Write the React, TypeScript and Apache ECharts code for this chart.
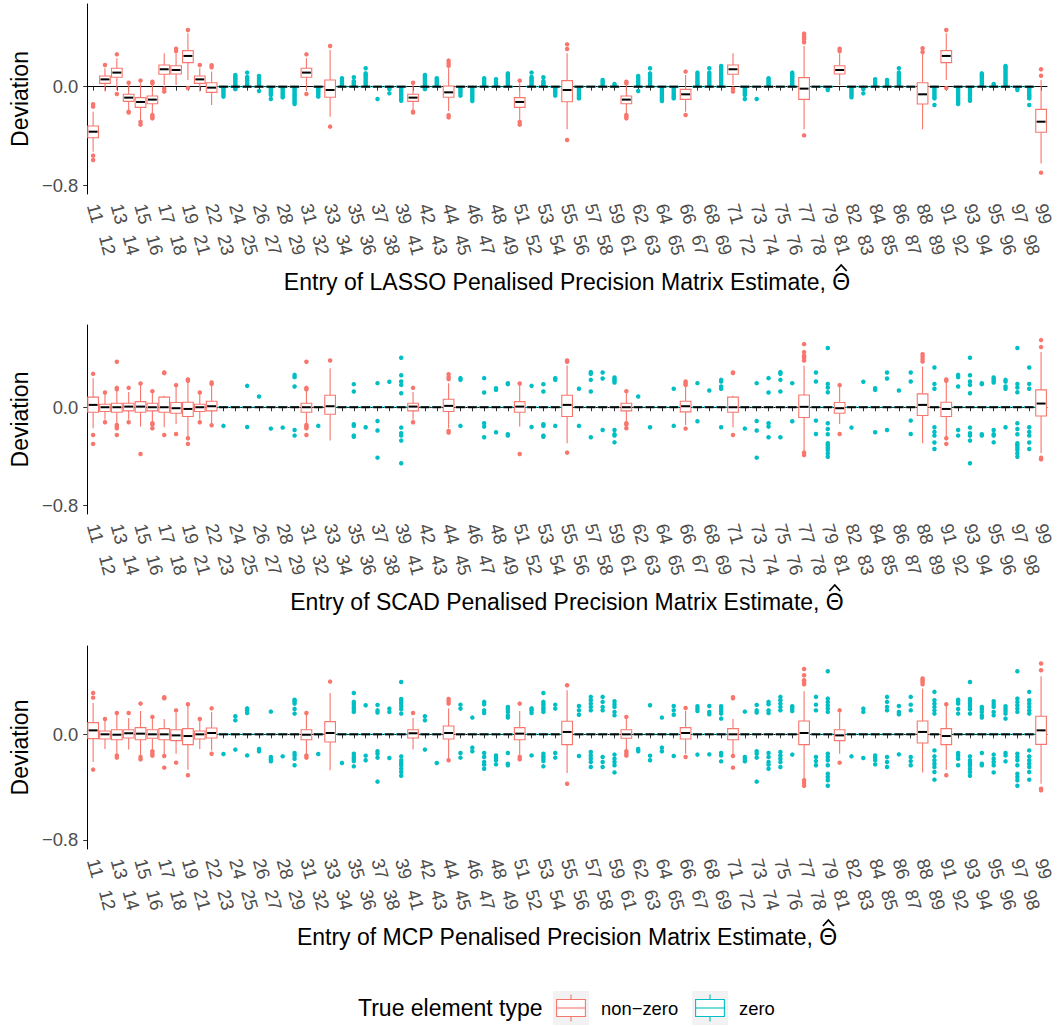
import React, { useEffect, useRef } from 'react';
import * as echarts from 'echarts';

// ---------- categories: entries (i, j) of the 9x9 precision matrix ----------
const CATEGORIES: string[] = [
  '11', '12', '13', '14', '15', '16', '17', '18', '19',
  '21', '22', '23', '24', '25', '26', '27', '28', '29',
  '31', '32', '33', '34', '35', '36', '37', '38', '39',
  '41', '42', '43', '44', '45', '46', '47', '48', '49',
  '51', '52', '53', '54', '55', '56', '57', '58', '59',
  '61', '62', '63', '64', '65', '66', '67', '68', '69',
  '71', '72', '73', '74', '75', '76', '77', '78', '79',
  '81', '82', '83', '84', '85', '86', '87', '88', '89',
  '91', '92', '93', '94', '95', '96', '97', '98', '99',
];

// The matrix is symmetric: entry "ji" shows exactly the same box as "ij",
// so values are listed for the upper triangle (i <= j) only.
// Box stats: [lower whisker, Q1, median, Q3, upper whisker] (non-zero entries).
// Zero entries collapse to a box at 0 with only outliers.
const ZERO_BOX = [0, 0, 0, 0, 0];

const LASSO_BOXES: [string, number[]][] = [
  ['11', [-0.527, -0.414, -0.365, -0.319, -0.203]],
  ['12', [-0.04, 0.027, 0.059, 0.086, 0.149]],
  ['13', [-0.027, 0.076, 0.114, 0.149, 0.23]],
  ['14', [-0.189, -0.119, -0.089, -0.062, 0.014]],
  ['15', [-0.27, -0.168, -0.124, -0.089, 0.027]],
  ['16', [-0.216, -0.138, -0.105, -0.076, 0.014]],
  ['17', [0.014, 0.1, 0.141, 0.176, 0.27]],
  ['18', [0.014, 0.103, 0.135, 0.17, 0.27]],
  ['19', [0.054, 0.195, 0.249, 0.292, 0.432]],
  ['22', [-0.149, -0.046, -0.008, 0.032, 0.122]],
  ['33', [-0.243, -0.086, -0.027, 0.054, 0.297]],
  ['44', [-0.197, -0.086, -0.046, 0.005, 0.149]],
  ['55', [-0.346, -0.122, -0.027, 0.049, 0.27]],
  ['66', [-0.203, -0.103, -0.062, -0.022, 0.095]],
  ['77', [-0.346, -0.103, -0.016, 0.073, 0.33]],
  ['88', [-0.346, -0.141, -0.062, 0.032, 0.27]],
  ['99', [-0.622, -0.37, -0.284, -0.184, 0.054]],
];

const LASSO_OUTLIERS: [string, number[]][] = [
  ['11', [-0.143, -0.162, -0.559, -0.595]],
  ['12', [0.176]],
  ['13', [0.262, -0.059]],
  ['14', [0.032, -0.203, -0.21]],
  ['15', [0.049, -0.286, -0.308]],
  ['16', [0.04, 0.027, -0.23, -0.243, -0.257]],
  ['17', [-0.016, -0.04]],
  ['18', [0.308, 0.289]],
  ['19', [0.459, -0.011]],
  ['22', [0.173, 0.157]],
  ['23', [-0.012, -0.025, -0.038, -0.052, -0.066, -0.081]],
  ['24', [0.012, 0.025, 0.04, 0.054, 0.068, 0.082, 0.095, -0.01, -0.02]],
  ['25', [0.011, 0.024, 0.038, 0.052, 0.066, 0.078, 0.114]],
  ['26', [0.012, 0.026, 0.04, 0.055, 0.07, 0.086, -0.035]],
  ['27', [-0.012, -0.026, -0.04, -0.055, -0.068, -0.1]],
  ['28', [-0.012, -0.026, -0.041, -0.056, -0.071, -0.086]],
  ['29', [-0.012, -0.026, -0.04, -0.055, -0.07, -0.085, -0.1, -0.113, -0.127, -0.14]],
  ['33', [0.33, -0.324]],
  ['34', [0.012, 0.026, 0.04, 0.054, 0.068]],
  ['35', [0.01, 0.022, 0.034, 0.045, 0.076]],
  ['36', [0.012, 0.026, 0.04, 0.055, 0.07, 0.085, 0.097, 0.108, 0.149]],
  ['37', [-0.1]],
  ['38', [-0.01, -0.02, -0.054]],
  ['39', [-0.012, -0.026, -0.04, -0.055, -0.07, -0.085, -0.1, -0.114]],
  ['44', [0.211, 0.189, 0.17, -0.232, -0.249]],
  ['45', [-0.012, -0.026, -0.04, -0.054, -0.073]],
  ['46', [-0.012, -0.026, -0.04, -0.055, -0.07, -0.085, -0.1, -0.116]],
  ['47', [0.012, 0.026, 0.04, 0.054, 0.068]],
  ['48', [0.012, 0.026, 0.04, 0.06]],
  ['49', [0.012, 0.026, 0.04, 0.055, 0.07, 0.085, 0.097, 0.108]],
  ['55', [0.343, 0.305, -0.432]],
  ['56', [-0.012, -0.026, -0.04, -0.055, -0.07, -0.083, -0.095]],
  ['58', [0.012, 0.026, 0.04, 0.054]],
  ['59', [0.01, 0.022]],
  ['66', [0.122, -0.23]],
  ['67', [0.012, 0.026, 0.04, 0.055, 0.07, 0.085, 0.1, 0.114]],
  ['68', [0.012, 0.026, 0.04, 0.055, 0.07, 0.085, 0.1, 0.114, 0.149]],
  ['69', [0.012, 0.026, 0.04, 0.055, 0.07, 0.085, 0.1, 0.115, 0.13, 0.145, 0.158, 0.168]],
  ['77', [0.43, 0.415, 0.4, 0.385, 0.36, -0.395]],
  ['79', [-0.012, -0.027]],
  ['88', [0.311, 0.281]],
  ['89', [-0.012, -0.026, -0.04, -0.055, -0.07, -0.083, -0.095, -0.149]],
  ['99', [0.141, 0.089, -0.697]],
];

const SCAD_BOXES: [string, number[]][] = [
  ['11', [-0.171, -0.041, 0.019, 0.082, 0.237]],
  ['12', [-0.103, -0.035, 0, 0.024, 0.109]],
  ['13', [-0.131, -0.041, 0, 0.033, 0.141]],
  ['14', [-0.103, -0.03, 0.005, 0.033, 0.125]],
  ['15', [-0.158, -0.041, 0.005, 0.046, 0.182]],
  ['16', [-0.117, -0.03, 0, 0.033, 0.12]],
  ['17', [-0.163, -0.041, 0, 0.082, 0.093]],
  ['18', [-0.136, -0.049, -0.008, 0.038, 0.169]],
  ['19', [-0.245, -0.076, -0.014, 0.041, 0.21]],
  ['22', [-0.131, -0.03, 0.008, 0.049, 0.182]],
  ['33', [-0.272, -0.057, 0.008, 0.098, 0.318]],
  ['44', [-0.171, -0.035, 0.011, 0.065, 0.196]],
  ['55', [-0.294, -0.076, 0.019, 0.098, 0.34]],
  ['66', [-0.144, -0.038, 0.008, 0.049, 0.177]],
  ['77', [-0.362, -0.084, 0.003, 0.1, 0.337]],
  ['88', [-0.294, -0.068, 0.019, 0.109, 0.332]],
  ['99', [-0.376, -0.071, 0.03, 0.141, 0.449]],
];

const SCAD_OUTLIERS: [string, number[]][] = [
  ['11', [0.272, -0.226, -0.299]],
  ['12', [0.12, -0.122]],
  ['13', [0.37, 0.158, 0.147, -0.144, -0.158, -0.171, -0.226]],
  ['14', [0.158, -0.122]],
  ['15', [0.193, -0.381]],
  ['16', [0.131, -0.131, -0.141, -0.171]],
  ['17', [0.283, 0.278, -0.226]],
  ['18', [0.18, -0.218]],
  ['19', [0.226, 0.215, -0.253, -0.299]],
  ['22', [0.201, 0.19, -0.147]],
  ['23', [-0.152]],
  ['25', [0.174, -0.161]],
  ['26', [0.087]],
  ['27', [-0.174]],
  ['28', [-0.166]],
  ['29', [0.264, 0.245, 0.169, -0.185, -0.231]],
  ['33', [0.381]],
  ['35', [0.188, 0.128, -0.139, -0.152, -0.231, -0.24]],
  ['36', [-0.163]],
  ['37', [0.196, -0.112, -0.19, -0.411]],
  ['38', [0.207]],
  ['39', [0.403, 0.261, 0.21, 0.182, 0.114, -0.166, -0.212, -0.231, -0.272, -0.457]],
  ['44', [0.269, 0.245, 0.229, -0.193, -0.207]],
  ['45', [0.237, 0.223, -0.152]],
  ['47', [0.237, 0.12, -0.131, -0.158, -0.245]],
  ['48', [0.155, 0.141, -0.204]],
  ['49', [0.196, 0.188, -0.22, -0.231]],
  ['55', [0.381, 0.37, -0.37]],
  ['56', [0.15, -0.152]],
  ['57', [0.286, 0.272, 0.223, 0.128, -0.245]],
  ['58', [0.283, 0.234, -0.185]],
  ['59', [0.242, 0.229, 0.215, 0.201, -0.185, -0.22, -0.231, -0.286]],
  ['66', [0.21, 0.196, 0.182, -0.174]],
  ['67', [0.196, -0.114]],
  ['68', [0.136]],
  ['69', [0.223, 0.21, 0.169, 0.15, -0.163]],
  ['77', [0.514, 0.449, 0.419, 0.405, 0.381, -0.37, -0.389]],
  ['78', [0.283, 0.21, -0.109, -0.218]],
  ['79', [0.482, 0.19, 0.161, 0.122, -0.131, -0.177, -0.22, -0.294, -0.31, -0.33, -0.348, -0.376, -0.403]],
  ['88', [0.433, 0.414, 0.392, 0.373]],
  ['89', [0.324, 0.19, 0.15, -0.163, -0.201, -0.231, -0.288, -0.34]],
  ['99', [0.547, 0.49, -0.411, -0.424]],
];

const MCP_BOXES: [string, number[]][] = [
  ['11', [-0.21, -0.033, 0.03, 0.089, 0.238]],
  ['12', [-0.111, -0.035, 0, 0.025, 0.106]],
  ['13', [-0.147, -0.041, -0.003, 0.035, 0.152]],
  ['14', [-0.116, -0.028, 0.008, 0.035, 0.124]],
  ['15', [-0.167, -0.041, 0.005, 0.051, 0.177]],
  ['16', [-0.122, -0.03, 0, 0.035, 0.127]],
  ['17', [-0.16, -0.041, 0, 0.043, 0.116]],
  ['18', [-0.147, -0.048, -0.008, 0.035, 0.165]],
  ['19', [-0.268, -0.078, -0.013, 0.043, 0.22]],
  ['22', [-0.122, -0.028, 0.01, 0.048, 0.17]],
  ['33', [-0.273, -0.058, 0.01, 0.096, 0.314]],
  ['44', [-0.192, -0.035, 0.01, 0.063, 0.195]],
  ['55', [-0.294, -0.078, 0.018, 0.099, 0.334]],
  ['66', [-0.147, -0.035, 0.01, 0.051, 0.177]],
  ['77', [-0.337, -0.078, 0.01, 0.101, 0.327]],
  ['88', [-0.289, -0.066, 0.018, 0.101, 0.347]],
  ['99', [-0.375, -0.076, 0.03, 0.137, 0.441]],
];

const MCP_OUTLIERS: [string, number[]][] = [
  ['11', [0.314, 0.278, -0.268]],
  ['12', [0.116]],
  ['13', [0.162, -0.16, -0.177]],
  ['14', [0.162]],
  ['15', [0.233, -0.172, -0.19]],
  ['16', [0.132, -0.129, -0.147, -0.162]],
  ['17', [0.281, 0.273, -0.165, -0.253]],
  ['18', [0.182, -0.215]],
  ['19', [0.228, -0.311]],
  ['22', [0.197, -0.147]],
  ['23', [-0.149]],
  ['24', [0.137, 0.106, -0.116]],
  ['25', [0.197, 0.182, 0.162, -0.16]],
  ['26', [-0.111, -0.129]],
  ['27', [0.172, -0.172, -0.19, -0.205]],
  ['28', [-0.167]],
  ['29', [0.263, 0.251, 0.233, 0.192, 0.157, -0.142, -0.16, -0.185, -0.235]],
  ['33', [0.4]],
  ['34', [-0.218]],
  ['35', [0.314, 0.246, 0.228, 0.208, 0.19, 0.17, -0.147, -0.167, -0.185, -0.203, -0.243]],
  ['36', [0.22, -0.162, -0.197]],
  ['37', [0.223, 0.182, 0.165, -0.129, -0.147, -0.177, -0.359]],
  ['38', [0.195, 0.17, -0.18]],
  ['39', [0.397, 0.268, 0.251, 0.233, 0.213, 0.19, 0.157, -0.167, -0.197, -0.218, -0.235, -0.261, -0.286, -0.314]],
  ['44', [0.268, 0.251, 0.233, -0.197]],
  ['45', [0.225, 0.195, -0.142, -0.177]],
  ['46', [0.127, -0.101, -0.129]],
  ['47', [0.246, 0.228, 0.182, 0.162, -0.142, -0.172, -0.21, -0.23, -0.261]],
  ['48', [-0.16, -0.177, -0.197, -0.228]],
  ['49', [0.208, 0.19, 0.17, 0.144, 0.127, -0.142, -0.223, -0.235]],
  ['55', [0.372, -0.375]],
  ['56', [0.215, 0.182, 0.149, -0.165]],
  ['57', [0.284, 0.258, 0.233, 0.208, 0.182, -0.134, -0.16, -0.185, -0.21, -0.248]],
  ['58', [0.284, 0.246, 0.208, 0.182, -0.172, -0.21, -0.248]],
  ['59', [0.251, 0.228, 0.208, 0.17, 0.144, -0.154, -0.185, -0.21, -0.235, -0.289]],
  ['66', [0.2, -0.172]],
  ['67', [0.213, 0.195, 0.177, -0.154]],
  ['68', [0.215, 0.17, 0.152, -0.152]],
  ['69', [0.213, 0.195, 0.177, 0.157, 0.119, -0.142, -0.16, -0.205]],
  ['77', [0.496, 0.448, 0.41, 0.397, 0.38, -0.349, -0.37, -0.39]],
  ['78', [0.284, 0.225, 0.182, -0.172, -0.203, -0.235]],
  ['79', [0.478, 0.271, 0.246, 0.22, 0.195, 0.17, -0.147, -0.172, -0.197, -0.235, -0.299, -0.324, -0.349, -0.39]],
  ['88', [0.423, 0.41, 0.397, 0.38]],
  ['89', [0.322, 0.258, 0.233, 0.208, 0.182, 0.157, -0.122, -0.167, -0.197, -0.223, -0.248, -0.286, -0.344]],
  ['99', [0.537, 0.486, -0.413, -0.425]],
];

const Y_TICKS = [-0.8, 0];
const Y_MIN = -0.87;
const Y_MAX = 0.67;
const PANEL_METHODS = ['LASSO', 'SCAD', 'MCP'];
const LEGEND_TITLE = 'True element type';
const LEGEND_LABELS = ['non\u2212zero', 'zero'];

// ---------- styling ----------
const RED = '#F8766D';
const CYAN = '#00BFC4';
const FONT = "'Liberation Sans', Arial, Helvetica, sans-serif";
const W = 1057;
const H = 1027;
const GRID_LEFT = 87;
const GRID_WIDTH = 960;
const PANEL_LAYOUT = [
  { top: 4, height: 190 },
  { top: 325, height: 189 },
  { top: 646, height: 203 },
];
const TITLE_GAP = 88;
const X_LABEL_SIZE = 18.4;
const ROW2_OFFSET = 31;

function buildPanel(boxes: [string, number[]][], outliers: [string, number[]][]) {
  const boxMap = new Map(boxes);
  const outMap = new Map(outliers);
  const boxData: number[][] = [];
  const redPts: number[][] = [];
  const cyanPts: number[][] = [];
  CATEGORIES.forEach((c, i) => {
    const key = c[0] <= c[1] ? c : c[1] + c[0];
    const stats = boxMap.get(key);
    const nz = stats ? 1 : 0;
    const s = stats || ZERO_BOX;
    boxData.push([i, s[0], s[1], s[2], s[3], s[4], nz]);
    (outMap.get(key) || []).forEach((v) => (nz ? redPts : cyanPts).push([i, v]));
  });
  return { boxData, redPts, cyanPts };
}

const PANEL_DATA = [
  buildPanel(LASSO_BOXES, LASSO_OUTLIERS),
  buildPanel(SCAD_BOXES, SCAD_OUTLIERS),
  buildPanel(MCP_BOXES, MCP_OUTLIERS),
];

function renderBox(params: any, api: any) {
  const x = api.value(0);
  const lo = api.coord([x, api.value(1)]);
  const q1 = api.coord([x, api.value(2)]);
  const med = api.coord([x, api.value(3)]);
  const q3 = api.coord([x, api.value(4)]);
  const hi = api.coord([x, api.value(5)]);
  const color = api.value(6) ? RED : CYAN;
  const band = api.size([1, 0])[0];
  const half = (band * 0.9) / 2;
  const mhalf = (band * 0.75) / 2;
  const cx = med[0];
  const children: any[] = [];
  if (lo[1] !== q1[1]) children.push({ type: 'line', shape: { x1: cx, y1: lo[1], x2: cx, y2: q1[1] }, style: { stroke: color, lineWidth: 1.1 } });
  if (hi[1] !== q3[1]) children.push({ type: 'line', shape: { x1: cx, y1: q3[1], x2: cx, y2: hi[1] }, style: { stroke: color, lineWidth: 1.1 } });
  if (q1[1] - q3[1] > 0.5) {
    children.push({
      type: 'rect',
      shape: { x: cx - half, y: q3[1], width: half * 2, height: q1[1] - q3[1] },
      style: { fill: '#ffffff', stroke: color, lineWidth: 1.1 },
    });
  } else {
    children.push({ type: 'line', shape: { x1: cx - half, y1: q3[1], x2: cx + half, y2: q3[1] }, style: { stroke: color, lineWidth: 1.6 } });
  }
  children.push({ type: 'line', shape: { x1: cx - mhalf, y1: med[1], x2: cx + mhalf, y2: med[1] }, style: { stroke: '#000000', lineWidth: 2 } });
  return { type: 'group', children };
}

function measure(text: string, font: string) {
  const ctx = document.createElement('canvas').getContext('2d');
  if (!ctx) return text.length * 11;
  ctx.font = font;
  return ctx.measureText(text).width;
}

function buildOption() {
  const grid: any[] = [];
  const xAxis: any[] = [];
  const yAxis: any[] = [];
  const series: any[] = [];
  const graphic: any[] = [];
  const titleFont = `23px ${FONT}`;

  PANEL_LAYOUT.forEach((p, g) => {
    grid.push({ left: GRID_LEFT, top: p.top, width: GRID_WIDTH, height: p.height, containLabel: false });
    const labelBase = {
      rotate: -75,
      fontSize: X_LABEL_SIZE,
      color: '#4D4D4D',
      fontFamily: FONT,
      hideOverlap: false,
      margin: 10,
    };
    xAxis.push({
      type: 'category',
      gridIndex: g,
      data: CATEGORIES,
      position: 'bottom',
      offset: 0,
      boundaryGap: true,
      axisLine: { show: true, lineStyle: { color: '#000', width: 1 } },
      axisTick: { show: true, alignWithLabel: true, interval: 0, length: 4, lineStyle: { color: '#333', width: 1 } },
      axisLabel: { ...labelBase, interval: (i: number) => i % 2 === 0 },
      splitLine: { show: false },
    });
    xAxis.push({
      type: 'category',
      gridIndex: g,
      data: CATEGORIES,
      position: 'bottom',
      offset: ROW2_OFFSET,
      boundaryGap: true,
      axisLine: { show: false },
      axisTick: { show: false },
      axisLabel: { ...labelBase, interval: (i: number) => i % 2 === 1 },
      splitLine: { show: false },
    });
    yAxis.push({
      type: 'value',
      gridIndex: g,
      min: Y_MIN,
      max: Y_MAX,
      axisLine: { show: true, lineStyle: { color: '#000', width: 1 } },
      axisTick: { show: true, length: 4, customValues: Y_TICKS, lineStyle: { color: '#333', width: 1 } },
      axisLabel: {
        customValues: Y_TICKS,
        margin: 9,
        fontSize: 18.4,
        color: '#4D4D4D',
        fontFamily: FONT,
        formatter: (v: number) => (v < 0 ? '\u2212' : '') + Math.abs(v).toFixed(1),
      },
      splitLine: { show: false },
      name: 'Deviation',
      nameLocation: 'middle',
      nameRotate: 90,
      nameGap: 56,
      nameTextStyle: { fontSize: 23, color: '#000', fontFamily: FONT },
    });
    const d = PANEL_DATA[g];
    series.push({
      type: 'scatter',
      xAxisIndex: 2 * g,
      yAxisIndex: g,
      data: d.redPts,
      symbol: 'circle',
      symbolSize: 4.5,
      itemStyle: { color: RED, opacity: 1 },
      silent: true,
      z: 2,
    });
    series.push({
      type: 'scatter',
      xAxisIndex: 2 * g,
      yAxisIndex: g,
      data: d.cyanPts,
      symbol: 'circle',
      symbolSize: 4.5,
      itemStyle: { color: CYAN, opacity: 1 },
      silent: true,
      z: 2,
    });
    series.push({
      type: 'custom',
      xAxisIndex: 2 * g,
      yAxisIndex: g,
      data: d.boxData,
      encode: { x: 0, y: [1, 2, 3, 4, 5] },
      renderItem: renderBox,
      silent: true,
      z: 3,
    });

    // axis title with a hat over Theta
    const title = `Entry of ${PANEL_METHODS[g]} Penalised Precision Matrix Estimate, \u0398`;
    const cx = GRID_LEFT + GRID_WIDTH / 2;
    const ty = p.top + p.height + TITLE_GAP;
    const tw = measure(title, titleFont);
    const thetaW = measure('\u0398', titleFont);
    const hx = cx + tw / 2 - thetaW / 2;
    graphic.push({
      type: 'text',
      x: cx,
      y: ty,
      style: {
        text: title,
        font: titleFont,
        fill: '#000',
        textAlign: 'center',
        align: 'center',
        textVerticalAlign: 'middle',
        verticalAlign: 'middle',
      },
    });
    graphic.push({
      type: 'polyline',
      shape: { points: [[hx - 5.5, ty - 11], [hx, ty - 17], [hx + 5.5, ty - 11]] },
      style: { stroke: '#000', lineWidth: 1.8, fill: 'none' },
    });
  });

  // legend
  const legY = 1008;
  const legFont = `18.4px ${FONT}`;
  graphic.push({
    type: 'text',
    x: 358,
    y: legY,
    style: { text: LEGEND_TITLE, font: titleFont, fill: '#000', textAlign: 'left', align: 'left', textVerticalAlign: 'middle', verticalAlign: 'middle' },
  });
  const keys = [
    { x: 553, color: RED, label: LEGEND_LABELS[0], tx: 601 },
    { x: 692, color: CYAN, label: LEGEND_LABELS[1], tx: 739 },
  ];
  keys.forEach((k) => {
    const top = legY - 17;
    const kw = 36;
    const kh = 34;
    const mid = k.x + kw / 2;
    graphic.push({ type: 'rect', shape: { x: k.x, y: top, width: kw, height: kh }, style: { fill: '#F2F2F2' } });
    graphic.push({ type: 'line', shape: { x1: mid, y1: top + 3.5, x2: mid, y2: top + 8.5 }, style: { stroke: k.color, lineWidth: 1.1 } });
    graphic.push({ type: 'line', shape: { x1: mid, y1: top + 25.5, x2: mid, y2: top + 30.5 }, style: { stroke: k.color, lineWidth: 1.1 } });
    graphic.push({ type: 'rect', shape: { x: k.x + 3.6, y: top + 8.5, width: kw - 7.2, height: 17 }, style: { fill: '#fff', stroke: k.color, lineWidth: 1.1 } });
    graphic.push({ type: 'line', shape: { x1: k.x + 3.6, y1: top + 17, x2: k.x + kw - 3.6, y2: top + 17 }, style: { stroke: k.color, lineWidth: 1.1 } });
    graphic.push({
      type: 'text',
      x: k.tx,
      y: legY,
      style: { text: k.label, font: legFont, fill: '#000', textAlign: 'left', align: 'left', textVerticalAlign: 'middle', verticalAlign: 'middle' },
    });
  });

  return {
    animation: false,
    backgroundColor: '#ffffff',
    textStyle: { fontFamily: FONT },
    grid,
    xAxis,
    yAxis,
    series,
    graphic,
  };
}

export default function App() {
  const ref = useRef<HTMLDivElement>(null);
  useEffect(() => {
    if (!ref.current) return;
    const chart = echarts.init(ref.current, undefined, { renderer: 'svg', width: W, height: H });
    chart.setOption(buildOption() as any);
    return () => chart.dispose();
  }, []);
  return <div ref={ref} style={{ position: 'absolute', left: 0, top: 0, width: W, height: H, background: '#fff' }} />;
}
